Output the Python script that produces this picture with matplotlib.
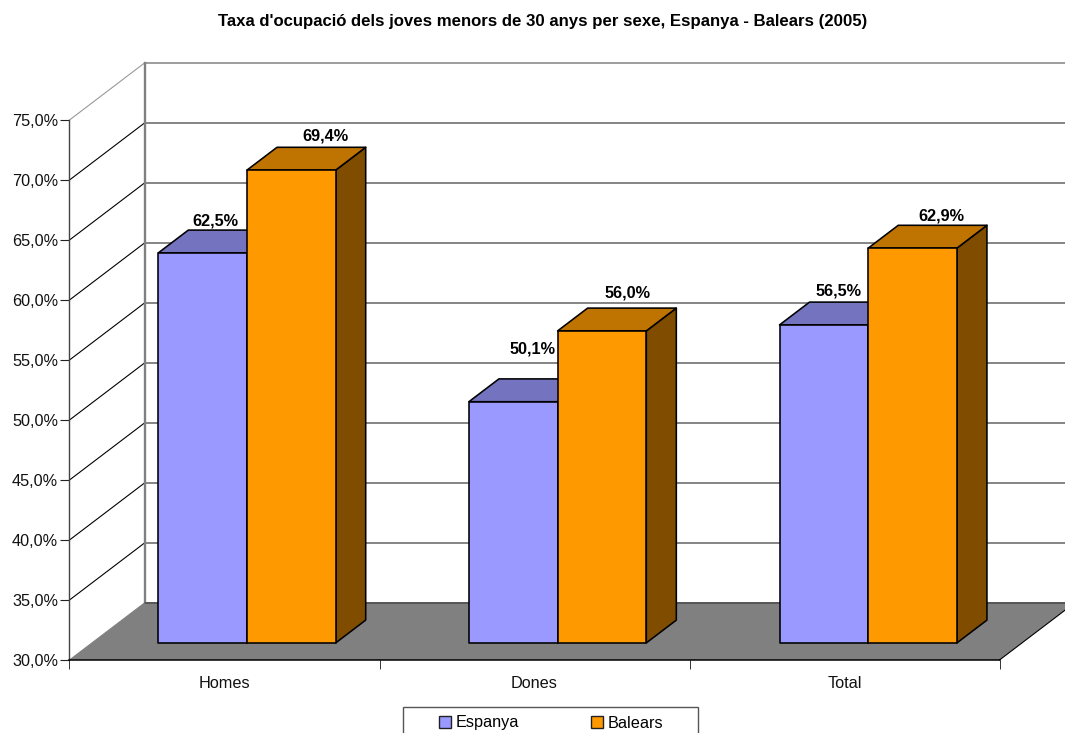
import matplotlib
matplotlib.use('Agg')
import matplotlib.pyplot as plt
from matplotlib.patches import Polygon, Rectangle

categories = ['Homes', 'Dones', 'Total']
espanya = [62.5, 50.1, 56.5]
balears = [69.4, 56.0, 62.9]
y_ticks = [30, 35, 40, 45, 50, 55, 60, 65, 70, 75]
series_names = ['Espanya', 'Balears']
title = "Taxa d'ocupació dels joves menors de 30 anys per sexe, Espanya - Balears (2005)"

W, H = 1065, 733
plt.rcParams['font.family'] = ['Liberation Sans', 'DejaVu Sans']
FS = 11.7

fig = plt.figure(figsize=(W / 100, H / 100), dpi=100)
ax = fig.add_axes([0, 0, 1, 1])
ax.set_xlim((0 - 69.5) / 310, (W - 69.5) / 310)
ax.set_ylim(30 - 73 / 12, 30 + 660 / 12)
ax.patch.set_alpha(0)

# depth of the fake 3d box, in data units
dx = 75 / 310
dy = 57 / 12
z0, z1 = 0.3, 0.7
bar_w = 88.7 / 310
base = 30


def pr(x, y, z):
    return x + z * dx, y + z * dy


def face(pts, fc, zorder, ec='black', lw=1.15):
    ax.add_patch(Polygon(pts, closed=True, fc=fc, ec=ec, lw=lw, zorder=zorder, joinstyle='round'))


# floor
n = len(categories)
face([pr(0, base, 0), pr(n, base, 0), pr(n, base, 1), pr(0, base, 1)], '#808080', 1, ec='none', lw=0)
ax.plot(*zip(pr(0, base, 1), pr(n, base, 1)), color='#555555', lw=1.4, zorder=2)
ax.plot(*zip(pr(n, base, 0), pr(n, base, 1)), color='black', lw=0.8, zorder=2)
ax.plot(*zip(pr(0, base, 0), pr(0, base, 1)), color='#808080', lw=0.8, zorder=2)

# walls and gridlines
for v in y_ticks[1:]:
    col = '#999999' if v == y_ticks[-1] else '#808080'
    ax.plot(*zip(pr(n, v, 1), pr(0, v, 1)), color=col, lw=1.35, zorder=1)
    col = '#999999' if v == y_ticks[-1] else 'black'
    ax.plot(*zip(pr(0, v, 0), pr(0, v, 1)), color=col, lw=0.8, zorder=1)
ax.plot(*zip(pr(0, base, 1), pr(0, y_ticks[-1], 1)), color='#808080', lw=1.7, zorder=1)


def draw_bar(x, v, front, top, side, zorder):
    a, b = x, x + bar_w
    face([pr(b, base, z0), pr(b, base, z1), pr(b, v, z1), pr(b, v, z0)], side, zorder)
    face([pr(a, v, z0), pr(b, v, z0), pr(b, v, z1), pr(a, v, z1)], top, zorder)
    face([pr(a, base, z0), pr(b, base, z0), pr(b, v, z0), pr(a, v, z0)], front, zorder)


# px offsets of each value label from the middle of the bar's top face
offs_e = [(-2, 20), (4, 41), (0, 22)]
offs_b = [(19, 22.5), (11, 26), (14, 21)]

for i in range(n):
    x_e = i * 1.002 + 0.5 - bar_w
    x_b = i * 1.002 + 0.5
    draw_bar(x_e, espanya[i], '#9999FF', '#7373BF', '#4D4D80', 3 + i)
    draw_bar(x_b, balears[i], '#FF9900', '#BF7300', '#804D00', 3.5 + i)
    for x, v, off in [(x_e, espanya[i], offs_e[i]), (x_b, balears[i], offs_b[i])]:
        lbl = f'{v:.1f}%'.replace('.', ',')
        ax.annotate(lbl, pr(x + bar_w / 2, v, (z0 + z1) / 2),
                    xytext=(off[0] * 0.72, off[1] * 0.72), textcoords='offset points',
                    ha='center', va='center', fontsize=FS, fontweight='bold', zorder=10)

# axes
for s in ['top', 'right']:
    ax.spines[s].set_visible(False)
ax.spines['left'].set_position(('data', 0))
ax.spines['left'].set_bounds(30, 75)
ax.spines['left'].set_color('#444444')
ax.spines['left'].set_linewidth(1.0)
ax.spines['left'].set_zorder(2)
ax.spines['bottom'].set_position(('data', 30))
ax.spines['bottom'].set_bounds(0, n)
ax.spines['bottom'].set_linewidth(1.1)
ax.spines['bottom'].set_zorder(2)

ax.set_yticks(y_ticks)
ax.set_yticklabels([f'{v:.1f}%'.replace('.', ',') for v in y_ticks], fontsize=FS, color='#111111')
ax.tick_params(axis='y', length=6.5, width=0.8, pad=1.8, color='#222222')
ax.set_xticks(range(n + 1))
ax.set_xticklabels([])
ax.tick_params(axis='x', which='major', length=6.5, width=0.7, color='#333333')
ax.set_xticks([i + 0.5 for i in range(n)], minor=True)
ax.set_xticklabels(categories, minor=True, fontsize=FS, color='#111111')
ax.tick_params(axis='x', which='minor', length=0, pad=11.2)

fig.text(543 / W, 1 - 21.5 / H, title, ha='center', va='center', fontsize=12.1, fontweight='bold')

# legend box runs off the bottom of the figure, like the reference
fig.add_artist(Rectangle((403 / W, 1 - 737 / H), 295 / W, 30 / H, transform=fig.transFigure,
                         fc='white', ec='#555555', lw=1.0))
handles = [Rectangle((0, 0), 1, 1, fc='#9999FF', ec='#222222', lw=1.0),
           Rectangle((0, 0), 1, 1, fc='#FF9900', ec='#222222', lw=1.0)]
fig.legend(handles, series_names, ncol=2, frameon=False, fontsize=FS,
           loc='center left', bbox_to_anchor=(439 / W, 1 - 723 / H),
           borderpad=0, borderaxespad=0, handlelength=0.72, handleheight=0.72,
           handletextpad=0.28, columnspacing=4.45)

fig.savefig('out.png', dpi=100)
